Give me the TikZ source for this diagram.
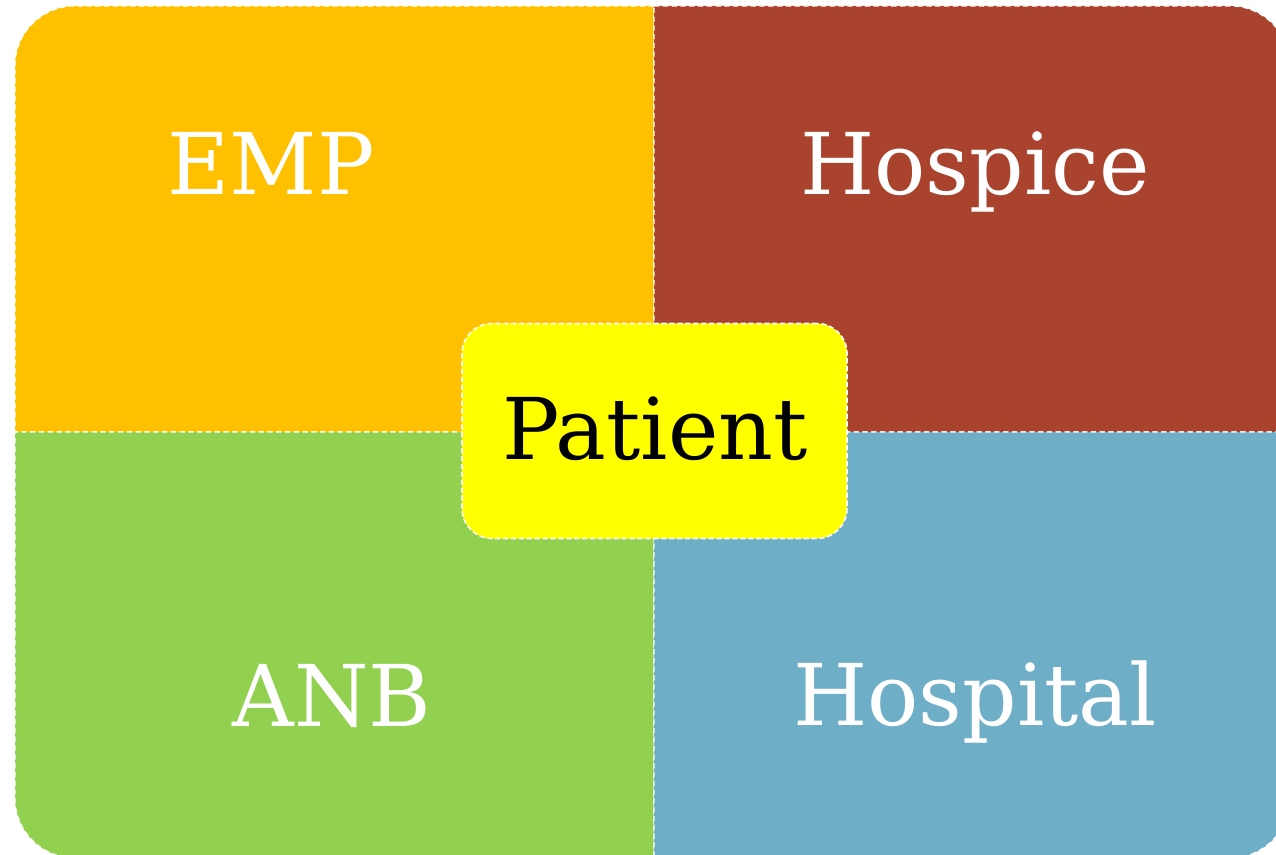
\documentclass[tikz,border=0pt]{standalone}
\usepackage{fontspec}
\setmainfont{DejaVu Serif}
\definecolor{empcol}{RGB}{255,192,0}
\definecolor{hospicecol}{RGB}{169,67,46}
\definecolor{anbcol}{RGB}{146,208,80}
\definecolor{hospitalcol}{RGB}{110,175,199}
\definecolor{patientcol}{RGB}{255,255,0}
\begin{document}
\begin{tikzpicture}
[font=\fontsize{48.5}{58}\selectfont]
\tikzstyle{quad}=[draw=white, line width=0.6pt, dash pattern=on 3pt off 2pt]
\tikzstyle{qlabel}=[text=white, anchor=base, inner sep=0pt]
\tikzstyle{hub}=[rectangle, rounded corners=0.6cm, draw=white, line width=0.9pt, dash pattern=on 3pt off 1.5pt, fill=patientcol, minimum width=7.7cm, minimum height=4.3cm, inner sep=0pt]
\useasboundingbox (0,0) rectangle (25.52,17.08);
\clip (0,0) rectangle (25.52,17.08);

% four quarters, only the outer corner rounded
\filldraw[quad, fill=empcol] (13.08,16.96) -- (1.5,16.96) arc[start angle=90, end angle=180, radius=1.2] -- (0.3,8.44) -- (13.08,8.44) -- cycle;
\filldraw[quad, fill=hospicecol] (13.08,16.96) -- (24.6,16.96) arc[start angle=90, end angle=0, radius=1.2] -- (25.8,8.44) -- (13.08,8.44) -- cycle;
\filldraw[quad, fill=anbcol] (13.08,-0.08) -- (1.5,-0.08) arc[start angle=270, end angle=180, radius=1.2] -- (0.3,8.44) -- (13.08,8.44) -- cycle;
\filldraw[quad, fill=hospitalcol] (13.08,-0.08) -- (24.6,-0.08) arc[start angle=270, end angle=360, radius=1.2] -- (25.8,8.44) -- (13.08,8.44) -- cycle;

\node[qlabel] (emp)      at (5.42,13.18) {EMP};
\node[qlabel] (hospice)  at (19.5,13.18) {Hospice};
\node[qlabel] (anb)      at (6.64,2.56)  {ANB};
\node[qlabel] (hospital) at (19.5,2.58)  {Hospital};

\node[hub] (patientbox) at (13.09,8.46) {};
\node[anchor=base, inner sep=0pt] (patient) at (13.1,7.9) {Patient};
\end{tikzpicture}
\end{document}
